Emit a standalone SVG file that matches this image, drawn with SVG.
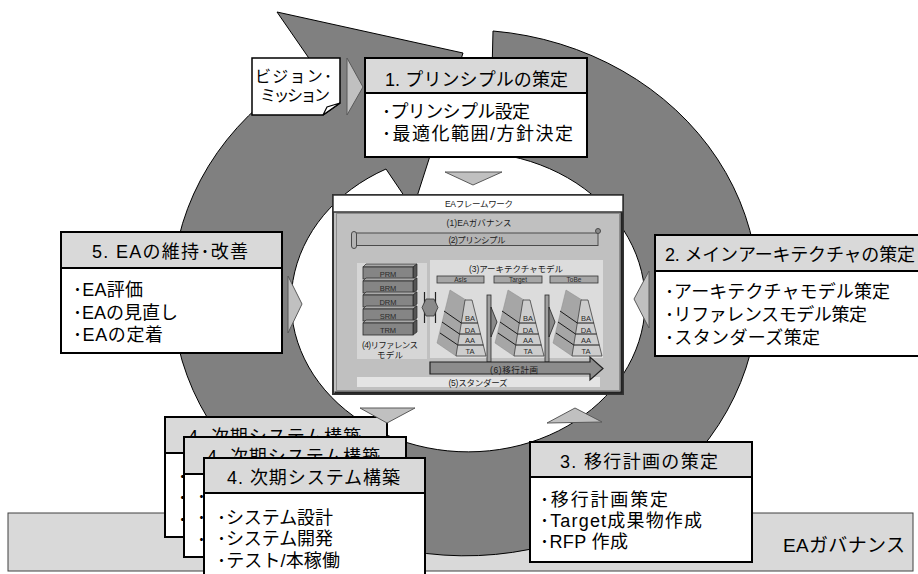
<svg xmlns="http://www.w3.org/2000/svg" width="918" height="574" viewBox="0 0 918 574">
<style>
text{font-family:"Liberation Sans","Noto Sans CJK JP",sans-serif;fill:#000}
.bx{fill:#fff;stroke:#000;stroke-width:2}
.hd{fill:#d9d9d9;stroke:#000;stroke-width:2}
.h{font-size:18px}
.b{font-size:18px}
.tri{fill:#c0c0c0;stroke:#595959;stroke-width:1}
.fs{font-size:8.5px;fill:#1a1a1a;text-anchor:middle}
.lb{font-size:7.5px;fill:#2a2a2a;text-anchor:middle}
.tl{font-size:6.5px;fill:#2a2a2a;text-anchor:middle}
.tab{fill:#a6a6a6;stroke:#333;stroke-width:.8}
.bar{fill:#a0a0a0;stroke:#2a2a2a;stroke-width:.8}
.sa{fill:#8a8a8a;stroke:#222;stroke-width:.8}
</style>
<defs>
<g id="slab">
<polygon points="363,0 366,-3 417,-3 413,0" fill="#a8a8a8" stroke="#2a2a2a" stroke-width=".7"/>
<polygon points="413,0 417,-3 417,9 413,12" fill="#555" stroke="#2a2a2a" stroke-width=".7"/>
<rect x="363" y="0" width="50" height="12" fill="#858585" stroke="#2a2a2a" stroke-width=".8"/>
</g>
<g id="pyr">
<polygon points="450,290 466,300 456,356 437,343" fill="#a6a6a6" stroke="#8a8a8a" stroke-width=".5"/>
<polygon points="465,300 472,300 486,356 456,356" fill="#cdcdcd" stroke="#404040" stroke-width=".8"/>
<path d="M444,311 L461.3,323 H477.8 M442,322 L459.5,334 H480.5 M440,333 L457.8,345 H483.3" stroke="#1a1a1a" stroke-width="1" fill="none"/>
</g>
</defs>

<g id="ea-governance">
<rect x="8" y="513" width="905" height="58" fill="#d9d9d9" stroke="#404040" stroke-width="1"/>
<text x="783" y="552" font-size="19" textLength="122">EAガバナンス</text>
</g>

<g id="cycle-arrow">
<path d="M493,31 A293,263 0 1 1 315,67 L277,12 L463,53 L413,209 L386,169 A177,150 0 1 0 490,153 Z" fill="#808080" stroke="#000" stroke-width="1"/>
</g>

<g id="framework">
<rect x="333" y="195" width="290" height="199" fill="#c0c0c0" stroke="#333" stroke-width="2"/>
<rect x="336.5" y="213.5" width="283" height="177" fill="none" stroke="#8c8c8c" stroke-width="1"/>
<path d="M334.5,392.5 H621.5 V196" fill="none" stroke="#222" stroke-width="2"/>
<rect x="333" y="195" width="290" height="17" fill="#fff" stroke="#333" stroke-width="1.5"/>
<text class="fs" x="479" y="207" textLength="68">EAフレームワーク</text>
<text class="fs" x="479" y="226" textLength="65">(1)EAガバナンス</text>
<rect x="355" y="233" width="243" height="12.5" fill="#b4b4b4" stroke="#4a4a4a" stroke-width="1"/>
<rect x="351.5" y="231.5" width="5" height="17" rx="2.5" fill="#b4b4b4" stroke="#4a4a4a" stroke-width="1"/>
<circle cx="598" cy="231" r="2.5" fill="#8a8a8a" stroke="#4a4a4a" stroke-width="1"/>
<text class="fs" x="477" y="243" textLength="57">(2)プリンシプル</text>
<rect x="357" y="263" width="70" height="96" fill="#d6d6d6"/>
<rect x="430" y="260" width="173" height="98" fill="#dcdcdc"/>
<text class="fs" x="516" y="272" textLength="94">(3)アーキテクチャモデル</text>
<rect class="tab" x="437" y="276" width="47" height="7"/>
<rect class="tab" x="494" y="276" width="48" height="7"/>
<rect class="tab" x="550" y="276" width="48" height="7"/>
<text class="tl" x="460.5" y="282.3">AsIs</text>
<text class="tl" x="518" y="282.3">Target</text>
<text class="tl" x="574" y="282.3">ToBe</text>
<use href="#slab" y="267"/>
<use href="#slab" y="281"/>
<use href="#slab" y="295"/>
<use href="#slab" y="309"/>
<use href="#slab" y="323"/>
<text class="lb" x="388" y="276.5">PRM</text>
<text class="lb" x="388" y="290.5">BRM</text>
<text class="lb" x="388" y="304.5">DRM</text>
<text class="lb" x="388" y="318.5">SRM</text>
<text class="lb" x="388" y="332.5">TRM</text>
<text class="fs" x="390" y="347.5" textLength="56">(4)リファレンス</text>
<text class="fs" x="390" y="358" textLength="26">モデル</text>
<path d="M424.5,292 V323 M435.5,292 V323" stroke="#222" stroke-width="1.2"/>
<polygon points="422,307.5 426,299 434,299 438,307.5 434,316 426,316" fill="#8a8a8a" stroke="#333" stroke-width=".8"/>
<use href="#pyr"/>
<use href="#pyr" x="58"/>
<use href="#pyr" x="116"/>
<text class="lb" x="470" y="321">BA</text>
<text class="lb" x="470" y="332.5">DA</text>
<text class="lb" x="470" y="343">AA</text>
<text class="lb" x="470" y="353.5">TA</text>
<text class="lb" x="528" y="321">BA</text>
<text class="lb" x="528" y="332.5">DA</text>
<text class="lb" x="528" y="343">AA</text>
<text class="lb" x="528" y="353.5">TA</text>
<text class="lb" x="586" y="321">BA</text>
<text class="lb" x="586" y="332.5">DA</text>
<text class="lb" x="586" y="343">AA</text>
<text class="lb" x="586" y="353.5">TA</text>
<rect class="bar" x="487" y="295" width="4" height="67"/>
<rect class="bar" x="545" y="295" width="4" height="67"/>
<polygon class="sa" points="491,307 497,322 491,337"/>
<polygon class="sa" points="549,307 555,322 549,337"/>
<rect x="357" y="377" width="243" height="10" fill="#e4e4e4"/>
<polygon points="430,362 590,362 590,357 603,368.5 590,380 590,374 430,374" fill="#8c8c8c" stroke="#202020" stroke-width="1.2"/>
<text class="fs" x="514" y="372.5" textLength="48">(6)移行計画</text>
<text class="fs" x="478" y="385.5" textLength="59">(5)スタンダーズ</text>
</g>

<g id="vision">
<path d="M252,58 H340 V103 L323,115 H252 Z" fill="#fff" stroke="#000" stroke-width="1.5"/>
<path d="M340,103 L327,107 L323,115 Z" fill="#fff" stroke="#000" stroke-width="1.2"/>
<text x="255" y="82" font-size="16" textLength="77">ビジョン･</text>
<text x="260" y="101" font-size="16" textLength="70">ミッション</text>
</g>

<g id="step1">
<rect class="bx" x="365" y="58" width="222" height="99"/>
<rect class="hd" x="365" y="58" width="222" height="35"/>
<text class="h" x="385" y="86" textLength="183">1. プリンシプルの策定</text>
<text class="b" x="382" y="118" textLength="148">･プリンシプル設定</text>
<text class="b" x="382" y="140" textLength="191">･最適化範囲/方針決定</text>
</g>

<g id="step5">
<rect class="bx" x="61" y="232" width="221" height="121"/>
<rect class="hd" x="61" y="232" width="221" height="36"/>
<text class="h" x="92" y="258" textLength="156">5. EAの維持･改善</text>
<text class="b" x="73" y="296" textLength="70">･EA評価</text>
<text class="b" x="73" y="319" textLength="105">･EAの見直し</text>
<text class="b" x="73" y="341" textLength="90">･EAの定着</text>
</g>

<g id="step2">
<rect class="bx" x="655" y="235" width="280" height="121"/>
<rect class="hd" x="655" y="235" width="280" height="36"/>
<text class="h" x="665" y="261" textLength="250">2. メインアーキテクチャの策定</text>
<text class="b" x="665" y="298" textLength="225">･アーキテクチャモデル策定</text>
<text class="b" x="665" y="321" textLength="202">･リファレンスモデル策定</text>
<text class="b" x="665" y="344" textLength="155">･スタンダーズ策定</text>
</g>

<g id="step3">
<rect class="bx" x="530" y="442" width="222" height="120"/>
<rect class="hd" x="530" y="442" width="222" height="35"/>
<text class="h" x="560" y="468" textLength="158">3. 移行計画の策定</text>
<text class="b" x="540" y="506" textLength="128">･移行計画策定</text>
<text class="b" x="540" y="527" textLength="162">･Target成果物作成</text>
<text class="b" x="540" y="548" textLength="88">･RFP 作成</text>
</g>

<g id="step4-back">
<rect class="bx" x="165" y="417" width="222" height="120"/>
<rect class="hd" x="165" y="417" width="222" height="36"/>
<text class="h" x="188" y="443" textLength="173">4. 次期システム構築</text>
<text class="b" x="178" y="483">･</text>
<text class="b" x="178" y="504">･</text>
<text class="b" x="178" y="526">･</text>
</g>

<g id="step4-middle">
<rect class="bx" x="184" y="437" width="222" height="120"/>
<rect class="hd" x="184" y="437" width="222" height="37"/>
<text class="h" x="207" y="463" textLength="173">4. 次期システム構築</text>
<text class="b" x="197" y="503">･</text>
<text class="b" x="197" y="524">･</text>
<text class="b" x="197" y="546">･</text>
</g>

<g id="step4">
<rect class="bx" x="204" y="458" width="221" height="125"/>
<rect class="hd" x="204" y="458" width="221" height="35"/>
<text class="h" x="227" y="484" textLength="173">4. 次期システム構築</text>
<text class="b" x="217" y="524" textLength="116">･システム設計</text>
<text class="b" x="217" y="545" textLength="116">･システム開発</text>
<text class="b" x="217" y="567" textLength="123">･テスト/本稼働</text>
</g>

<g id="connectors">
<polygon class="tri" points="347,58 363,87 347,115"/>
<polygon class="tri" points="445,172 502,172 473,185"/>
<polygon class="tri" points="288,276 302,304 288,333"/>
<polygon class="tri" points="649,271 634,299 649,328"/>
<polygon class="tri" points="360,408 415,408 387,423"/>
<polygon class="tri" points="547,423 602,422 575,408"/>
</g>
</svg>
